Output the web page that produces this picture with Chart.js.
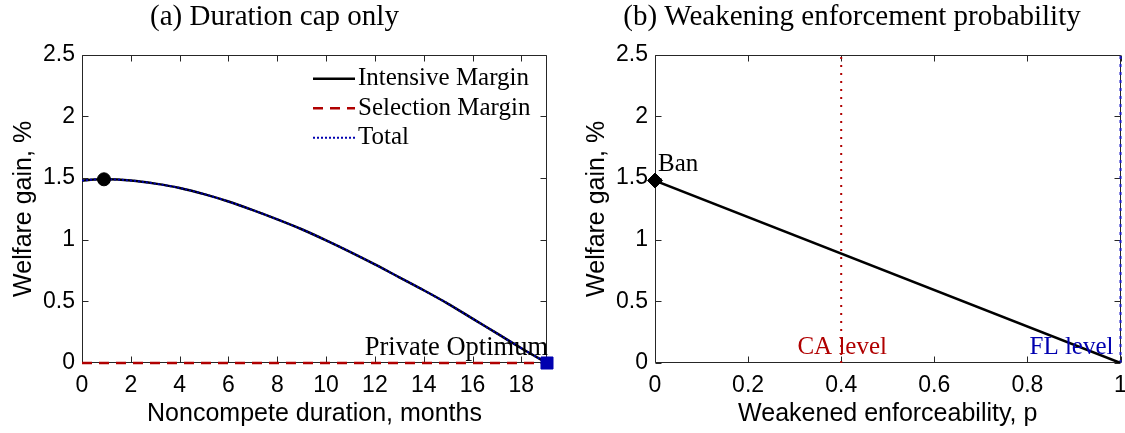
<!DOCTYPE html>
<html>
<head>
<meta charset="utf-8">
<script src="https://cdn.jsdelivr.net/npm/chart.js@4.4.1/dist/chart.umd.min.js"></script>
<style>
  html, body { margin: 0; padding: 0; background: #fff; }
  #wrap { position: relative; width: 1125px; height: 433px; overflow: hidden; }
  .panel { position: absolute; top: 0; height: 433px; }
</style>
</head>
<body>
<div id="wrap">
  <div class="panel" style="left:0; width:565px;"><canvas id="chartA"></canvas></div>
  <div class="panel" style="left:575px; width:554px;"><canvas id="chartB"></canvas></div>
</div>
<script>
// ---- Panel (a): welfare gain from capping noncompete duration ----
const durationMonths  = [0, 0.5, 1, 2, 3, 4, 5, 6, 7, 8, 9, 10, 11, 12, 13, 14, 15, 16, 17, 18, 19.05];
const intensiveMargin = [1.48, 1.488, 1.49, 1.48, 1.455, 1.42, 1.37, 1.31, 1.24, 1.165, 1.085, 0.995, 0.9, 0.8, 0.695, 0.59, 0.48, 0.36, 0.24, 0.12, 0];
const selectionMargin = [0, 0, 0, 0, 0, 0, 0, 0, 0, 0, 0, 0, 0, 0, 0, 0, 0, 0, 0, 0, 0];
const totalGain       = [1.48, 1.488, 1.49, 1.48, 1.455, 1.42, 1.37, 1.31, 1.24, 1.165, 1.085, 0.995, 0.9, 0.8, 0.695, 0.59, 0.48, 0.36, 0.24, 0.12, 0];
const optimalCap      = [0.9, 1.49];
const privateOptimum  = [19.05, 0];
const durationTicks   = [0, 2, 4, 6, 8, 10, 12, 14, 16, 18];
const durationLabels  = ['0', '2', '4', '6', '8', '10', '12', '14', '16', '18'];
const durationMax     = 19.05;

// ---- Panel (b): welfare gain from weakening enforcement probability ----
const enforceability  = [0, 1];
const weakenedGain    = [1.48, 0];
const banPoint        = [0, 1.48];
const caLevel         = 0.4;
const flLevel         = 1;
const pTicks          = [0, 0.2, 0.4, 0.6, 0.8, 1];
const pLabels         = ['0', '0.2', '0.4', '0.6', '0.8', '1'];

// ---- shared y axis ----
const gainTicks  = [0, 0.5, 1, 1.5, 2, 2.5];
const gainLabels = ['0', '0.5', '1', '1.5', '2', '2.5'];
const gainMax    = 2.5;

const SERIF = "'Liberation Serif', 'Times New Roman', serif";
const SANS  = "'Liberation Sans', Arial, Helvetica, sans-serif";
const RED   = '#b00000';
const BLUE  = '#0000b0';

// Boxed axes with inward tick marks on all four sides
const framePlugin = {
  id: 'frame',
  beforeDatasetsDraw(chart) {
    const { ctx, chartArea: a, scales: { x, y } } = chart;
    const tl = 6;
    ctx.save();
    ctx.strokeStyle = '#262626';
    ctx.lineWidth = 1;
    ctx.beginPath();
    const L = Math.round(a.left) + 0.5, R = Math.round(a.right) - 0.5;
    const T = Math.round(a.top) + 0.5, B = Math.round(a.bottom) - 0.5;
    ctx.rect(L, T, R - L, B - T);
    x.ticks.forEach(t => {
      const px = Math.round(x.getPixelForValue(t.value)) + 0.5;
      ctx.moveTo(px, B); ctx.lineTo(px, B - tl);
      ctx.moveTo(px, T); ctx.lineTo(px, T + tl);
    });
    y.ticks.forEach(t => {
      const py = Math.round(y.getPixelForValue(t.value)) + 0.5;
      ctx.moveTo(L, py); ctx.lineTo(L + tl, py);
      ctx.moveTo(R, py); ctx.lineTo(R - tl, py);
    });
    ctx.stroke();
    ctx.restore();
  }
};

// Legend drawn inside the plot area, top right
const insetLegend = {
  id: 'insetLegend',
  afterDatasetsDraw(chart, args, opts) {
    if (!opts.display) return;
    const { ctx, chartArea: a } = chart;
    const items = chart.data.datasets
      .filter(d => d.legendRank !== undefined)
      .sort((p, q) => p.legendRank - q.legendRank);
    ctx.save();
    ctx.font = opts.font;
    ctx.textBaseline = 'middle';
    items.forEach((d, i) => {
      const yy = a.top + opts.top + i * opts.rowGap;
      const x0 = a.right - opts.right;
      ctx.setLineDash(d.borderDash || []);
      ctx.strokeStyle = d.borderColor;
      ctx.lineWidth = d.borderWidth;
      ctx.beginPath();
      ctx.moveTo(x0, yy);
      ctx.lineTo(x0 + opts.sample, yy);
      ctx.stroke();
      ctx.setLineDash([]);
      ctx.fillStyle = '#000';
      ctx.fillText(d.label, x0 + opts.sample + 3, yy);
    });
    ctx.restore();
  }
};

// Text notes anchored at data coordinates
const notesPlugin = {
  id: 'notes',
  afterDatasetsDraw(chart, args, opts) {
    const { ctx, scales: { x, y } } = chart;
    (opts.items || []).forEach(n => {
      ctx.save();
      ctx.font = n.font;
      ctx.fillStyle = n.color;
      ctx.textAlign = n.align;
      ctx.textBaseline = 'alphabetic';
      ctx.fillText(n.text, x.getPixelForValue(n.x) + n.dx, y.getPixelForValue(n.y) + n.dy);
      ctx.restore();
    });
  }
};

function pts(xs, ys) { return xs.map((v, i) => ({ x: v, y: ys[i] })); }

function makeScales(xTicks, xLabels, xMax, xTitle) {
  return {
    x: {
      type: 'linear', min: 0, max: xMax,
      afterBuildTicks: s => { s.ticks = xTicks.map(v => ({ value: v })); },
      afterFit: s => { s.height = 70; s.paddingLeft = 0; s.paddingRight = 0; },
      grid: { display: false, drawTicks: false },
      border: { display: false },
      ticks: {
        autoSkip: false, maxRotation: 0, padding: 9, color: '#000',
        font: { family: SANS, size: 23 },
        callback: (v, i) => xLabels[i]
      },
      title: {
        display: true, text: xTitle, color: '#000',
        font: { family: SANS, size: 25 }, padding: { top: 0, bottom: 4 }
      }
    },
    y: {
      type: 'linear', min: 0, max: gainMax,
      afterBuildTicks: s => { s.ticks = gainTicks.map(v => ({ value: v })); },
      afterFit: s => { s.width = 80; s.paddingTop = 0; s.paddingBottom = 0; },
      grid: { display: false, drawTicks: false },
      border: { display: false },
      ticks: {
        padding: 7, color: '#000',
        font: { family: SANS, size: 23 },
        callback: (v, i) => gainLabels[i]
      },
      title: {
        display: true, text: 'Welfare gain, %', color: '#000',
        font: { family: SANS, size: 25 }, padding: { top: 7, bottom: 2 }
      }
    }
  };
}

function titleOpts(text) {
  return {
    display: true, text, color: '#000',
    font: { family: SERIF, size: 29, weight: 'normal' },
    padding: { top: 0, bottom: 20 }
  };
}

Chart.defaults.devicePixelRatio = 1;

new Chart(document.getElementById('chartA'), {
  type: 'line',
  data: {
    datasets: [
      { label: 'optimal cap', data: [{ x: optimalCap[0], y: optimalCap[1] }], order: 0,
        showLine: false, pointStyle: 'circle', pointRadius: 6.5, pointBackgroundColor: '#000', pointBorderColor: '#000', clip: false },
      { label: 'Private Optimum', data: [{ x: privateOptimum[0], y: privateOptimum[1] }], order: 0,
        showLine: false, pointStyle: 'rect', pointRadius: 8.5, pointBackgroundColor: BLUE, pointBorderColor: BLUE, clip: false },
      { label: 'Total', legendRank: 3, data: pts(durationMonths, totalGain), order: 1,
        borderColor: BLUE, borderWidth: 2, borderDash: [2, 2], pointRadius: 0, cubicInterpolationMode: 'monotone' },
      { label: 'Selection Margin', legendRank: 2, data: pts(durationMonths, selectionMargin), order: 2,
        borderColor: RED, borderWidth: 2.5, borderDash: [10, 7], pointRadius: 0, clip: false },
      { label: 'Intensive Margin', legendRank: 1, data: pts(durationMonths, intensiveMargin), order: 3,
        borderColor: '#000', borderWidth: 2.5, pointRadius: 0, cubicInterpolationMode: 'monotone' }
    ]
  },
  options: {
    responsive: true, maintainAspectRatio: false, animation: false,
    layout: { padding: { top: 0, right: 18, bottom: 0, left: 2 } },
    scales: makeScales(durationTicks, durationLabels, durationMax, 'Noncompete duration, months'),
    plugins: {
      legend: { display: false },
      tooltip: { enabled: false },
      title: titleOpts('(a) Duration cap only'),
      insetLegend: { display: true, font: '25px ' + SERIF, top: 24, rowGap: 29.5, right: 234, sample: 42 },
      notes: { items: [
        { text: 'Private Optimum', x: privateOptimum[0], y: privateOptimum[1], dx: 1, dy: -8, align: 'right', color: '#000', font: '26.5px ' + SERIF }
      ] }
    }
  },
  plugins: [framePlugin, insetLegend, notesPlugin]
});

new Chart(document.getElementById('chartB'), {
  type: 'line',
  data: {
    datasets: [
      { label: 'Ban', data: [{ x: banPoint[0], y: banPoint[1] }], order: 0,
        showLine: false, pointStyle: 'rectRot', pointRadius: 7.5, pointBackgroundColor: '#000', pointBorderColor: '#000', clip: false },
      { label: 'Welfare gain', data: pts(enforceability, weakenedGain), order: 1,
        borderColor: '#000', borderWidth: 2.5, pointRadius: 0 },
      { label: 'CA level', data: [{ x: caLevel, y: 0 }, { x: caLevel, y: gainMax }], order: 2,
        borderColor: RED, borderWidth: 2, borderDash: [2, 6], pointRadius: 0 },
      { label: 'FL level', data: [{ x: flLevel, y: 0 }, { x: flLevel, y: gainMax }], order: 2,
        borderColor: '#1818c8', borderWidth: 2, borderDash: [3, 5], pointRadius: 0, clip: false }
    ]
  },
  options: {
    responsive: true, maintainAspectRatio: false, animation: false,
    layout: { padding: { top: 0, right: 0, bottom: 0, left: 0 } },
    scales: makeScales(pTicks, pLabels, 1, 'Weakened enforceability, p'),
    plugins: {
      legend: { display: false },
      tooltip: { enabled: false },
      title: titleOpts('(b) Weakening enforcement probability'),
      notes: { items: [
        { text: 'Ban', x: banPoint[0], y: banPoint[1], dx: 3, dy: -10, align: 'left', color: '#000', font: '25px ' + SERIF },
        { text: 'CA level', x: caLevel, y: 0, dx: 1, dy: -9, align: 'center', color: RED, font: '25px ' + SERIF },
        { text: 'FL level', x: flLevel, y: 0, dx: -7, dy: -9, align: 'right', color: BLUE, font: '25px ' + SERIF }
      ] }
    }
  },
  plugins: [framePlugin, notesPlugin]
});
</script>
</body>
</html>
